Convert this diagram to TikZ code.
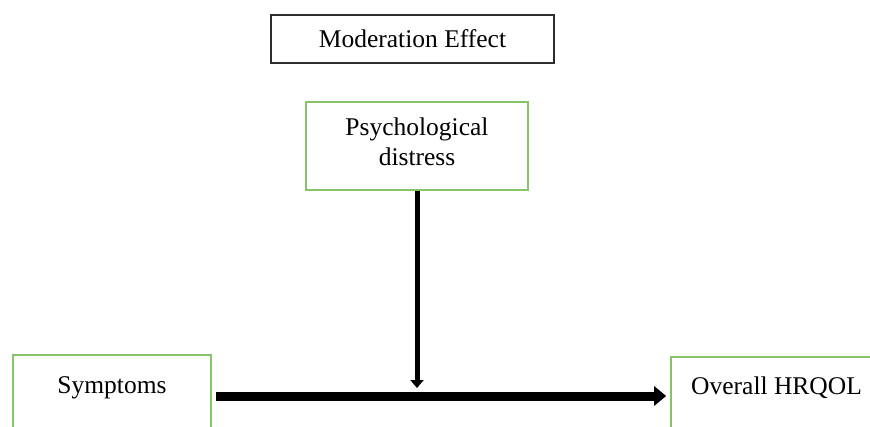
\documentclass[tikz,border=0pt]{standalone}
\usepackage{fontspec}
\setmainfont{Liberation Serif}
\usetikzlibrary{arrows.meta}
\definecolor{boxgreen}{RGB}{134,196,104}
\definecolor{boxdark}{RGB}{45,45,45}
\tikzset{
  greenbox/.style={draw=boxgreen, line width=1.6pt, rectangle, inner sep=0pt},
  darkbox/.style={draw=boxdark, line width=2pt, rectangle, inner sep=0pt},
  lbl/.style={anchor=base, inner sep=0pt, font=\fontsize{25.5}{30}\selectfont},
}
\begin{document}
\begin{tikzpicture}[x=1pt,y=-1pt]
\clip (0,0) rectangle (870,426);
\fill[white] (0,0) rectangle (870,426);
% boxes
\node[darkbox, minimum width=283pt, minimum height=48pt] (mod) at (412.5,39) {};
\node[greenbox, minimum width=222pt, minimum height=88pt] (psy) at (417,146) {};
\node[greenbox, minimum width=198pt, minimum height=110pt] (sym) at (112,410) {};
\node[greenbox, minimum width=240pt, minimum height=110pt] (hrq) at (791,412) {};
% labels
\node[lbl] (modt) at (412.5,47) {Moderation Effect};
\node[lbl] (psyt1) at (417,135) {Psychological};
\node[lbl] (psyt2) at (417,165) {distress};
\node[lbl] (symt) at (112,393) {Symptoms};
\node[lbl, anchor=base west] (hrqt) at (691,394) {Overall HRQOL};
% connectors
\coordinate (hstart) at (sym.east |- 0,396);
\coordinate (hend) at (hrq.west |- 0,396);
\coordinate (mid) at (psy.south |- 0,396);
\draw[line width=9pt, -{Triangle[width=19pt,length=12pt]}, shorten <=4pt, shorten >=4pt] (hstart) -- (hend);
\draw[line width=5pt, -{Triangle[width=13pt,length=8pt]}, shorten >=8pt] (psy.south) -- (mid);
\end{tikzpicture}
\end{document}
